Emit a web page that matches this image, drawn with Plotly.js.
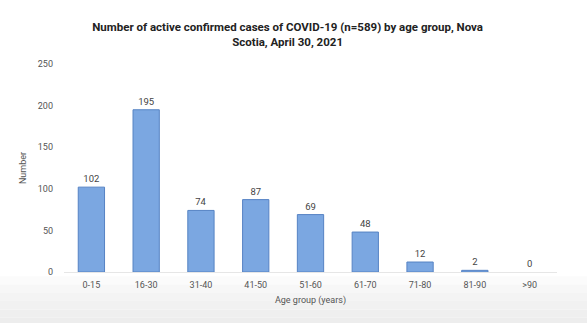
<!DOCTYPE html>
<html><head><meta charset="utf-8">
<script src="https://cdn.plot.ly/plotly-3.0.1.min.js"></script>
<style>html,body{margin:0;padding:0;background:#fff}</style>
</head><body>
<div id="chart" style="width:587px;height:323px"></div>
<script>
var categories = ["0-15","16-30","31-40","41-50","51-60","61-70","71-80","81-90",">90"];
var cases = [102,195,74,87,69,48,12,2,0];
var yTicks = [0,50,100,150,200,250];

var trace = {
  type: "bar",
  x: categories,
  y: cases,
  text: cases.map(String),
  textposition: "outside",
  cliponaxis: false,
  textfont: {family: "Roboto, sans-serif", size: 9.5, color: "#444"},
  marker: {color: "#7ba7e1", line: {color: "#5683c4", width: cases.map(function(v){return v > 0 ? 1 : 0;})}},
  hoverinfo: "none"
};

// light grey vignette at the bottom of the screenshot, built as stacked strips
var strips = [];
var greys = ["#fbfbfb","#f7f7f7","#f4f4f4","#f1f1f1","#efefef","#ededed"];
for (var i = 0; i < greys.length; i++) {
  strips.push({
    type: "rect", xref: "paper", yref: "paper",
    x0: -0.2, x1: 1.2,
    y0: -0.02 - i * 0.04, y1: -0.06 - i * 0.04 - (i === greys.length - 1 ? 0.1 : 0),
    fillcolor: greys[i], line: {width: 0}, layer: "below"
  });
}

var layout = {
  width: 587, height: 323,
  margin: {l: 64, r: 30, t: 64, b: 51},
  paper_bgcolor: "#ffffff",
  plot_bgcolor: "rgba(0,0,0,0)",
  bargap: 0.52,
  showlegend: false,
  title: {
    text: "<b>Number of active confirmed cases of COVID-19 (n=589) by age group, Nova<br>Scotia, April 30, 2021</b>",
    font: {family: "Roboto, sans-serif", size: 11.5, color: "#222"},
    x: 0.49, xanchor: "center", y: 0.905, yanchor: "top"
  },
  xaxis: {
    type: "category",
    tickfont: {family: "Roboto, sans-serif", size: 9, color: "#555"},
    showline: true, linecolor: "#e6e6e6", linewidth: 1,
    ticks: "", showgrid: false,
    ticklabelstandoff: 4,
    title: {text: "Age group (years)", font: {family: "Roboto, sans-serif", size: 9, color: "#555"}, standoff: 7}
  },
  yaxis: {
    range: [0, 250],
    tickvals: yTicks,
    ticktext: yTicks.map(String),
    tickfont: {family: "Roboto, sans-serif", size: 9, color: "#555"},
    showgrid: false, zeroline: false, showline: false, ticks: "",
    ticklabelstandoff: 10,
    title: {text: "Number", font: {family: "Roboto, sans-serif", size: 9, color: "#555"}, standoff: 9}
  },
  shapes: strips
};
Plotly.newPlot("chart", [trace], layout, {displayModeBar: false, staticPlot: true});
</script>
</body></html>
